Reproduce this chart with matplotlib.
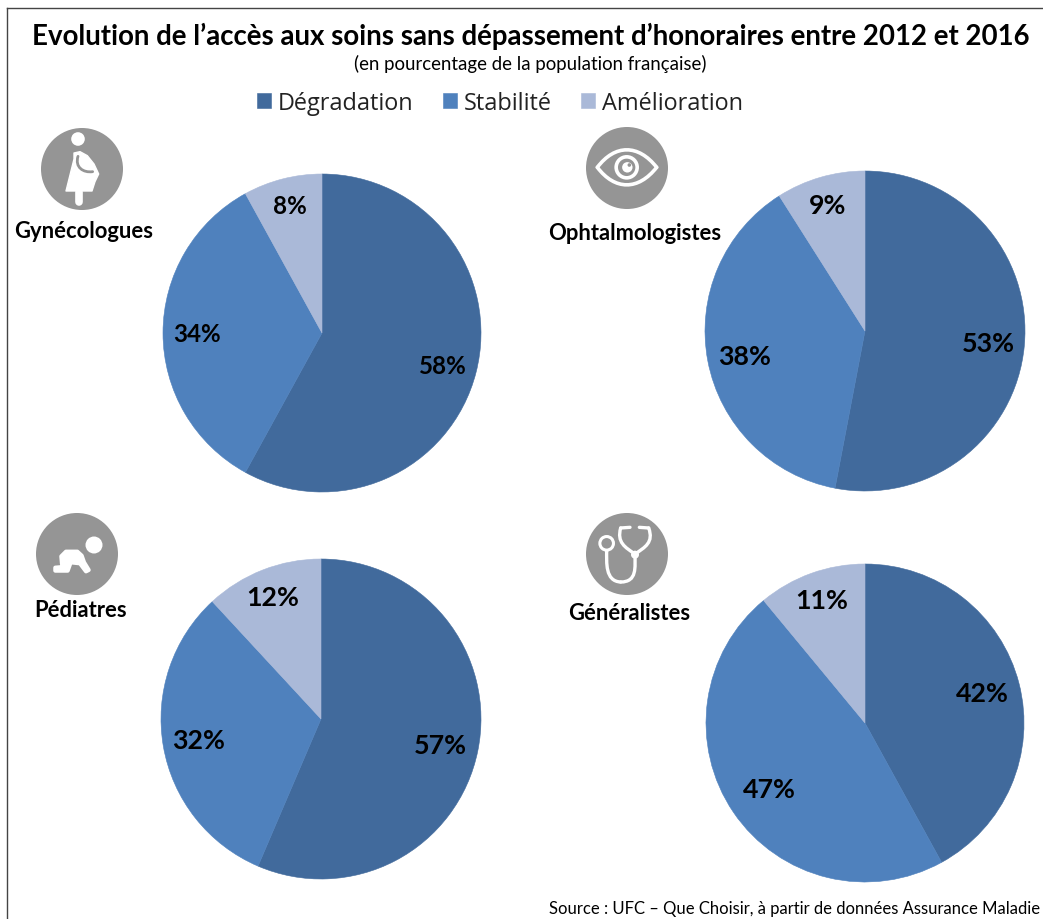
import matplotlib
matplotlib.use('Agg')
import matplotlib.pyplot as plt
from matplotlib.patches import Circle, Polygon, PathPatch
from matplotlib.path import Path

W, H = 1043, 920

# Data
series = ['Dégradation', 'Stabilité', 'Amélioration']
gyneco = [58, 34, 8]
ophtalmo = [53, 38, 9]
pediatres = [57, 32, 12]
generalistes = [42, 47, 11]

colors = ['#416A9C', '#4F81BD', '#AAB9D8']
gray = '#959595'

fig = plt.figure(figsize=(W / 100, H / 100), dpi=100, facecolor='white')

# Overlay axes in pixel coordinates for the frame, the icons and the texts
ov = fig.add_axes([0, 0, 1, 1], zorder=3)
ov.set_xlim(0, W)
ov.set_ylim(H, 0)
ov.axis('off')


def draw_pie(values, cx, cy, r, label_pos):
    ax = fig.add_axes([(cx - r - 1) / W, 1 - (cy + r + 1) / H, (2 * r + 2) / W, (2 * r + 2) / H])
    m = (r + 1) / r
    wedges, texts = ax.pie(values, colors=colors, startangle=90, counterclock=False, radius=1,
                           labels=[str(v) + '%' for v in values],
                           textprops=dict(family='Lato', weight='bold', color='black'))
    ax.set_xlim(-m, m)
    ax.set_ylim(-m, m)
    for w in wedges:
        w.set_edgecolor(w.get_facecolor())
        w.set_linewidth(0.4)
    for t, (px, py, size) in zip(texts, label_pos):
        t.set_position(((px - cx) / r, (cy - py) / r))
        t.set_ha('center')
        t.set_va('center')
        t.set_fontsize(size)
    return wedges


wedges = draw_pie(gyneco, 322, 334, 159, [(443, 367, 17.4), (197, 335, 17.4), (290, 206, 17.4)])
draw_pie(ophtalmo, 865, 332, 160, [(988, 344, 19.3), (745, 357, 19.3), (828, 206, 19.3)])
draw_pie(pediatres, 321, 720, 160, [(440, 746, 19.3), (199, 741, 19.3), (273, 598, 19.3)])
draw_pie(generalistes, 865, 724, 159, [(982, 694, 19.3), (769, 790, 19.3), (822, 601, 19.3)])

# Frame
ov.plot([7, 7], [H, 9], color='#444444', lw=1)
ov.plot([7, W], [9, 9], color='#444444', lw=1)

# Titles
ov.text(530.5, 36, 'Evolution de l’accès aux soins sans dépassement d’honoraires entre 2012 et 2016',
        ha='center', va='center', family='Lato', weight='bold', fontsize=19.9, color='black')
ov.text(530, 64, '(en pourcentage de la population française)', ha='center', va='center',
        family='Lato', fontsize=13.4, color='black')
ov.text(1040, 909, 'Source : UFC – Que Choisir, à partir de données Assurance Maladie', ha='right',
        va='center', family='Lato', fontsize=11.95, color='black')

# Legend
fig.legend(wedges, series, ncols=3, loc='center', bbox_to_anchor=(500 / W, 1 - 104 / H), frameon=False,
           prop=dict(family='Open Sans', size=16.9), handlelength=0.6, handleheight=0.6,
           handletextpad=0.3, columnspacing=1.25, labelcolor='#222222')

# Category names
ov.text(84, 231, 'Gynécologues', ha='center', va='center', family='Lato', weight='bold', fontsize=15.8)
ov.text(635, 233, 'Ophtalmologistes', ha='center', va='center', family='Lato', weight='bold', fontsize=15.8)
ov.text(81, 611, 'Pédiatres', ha='center', va='center', family='Lato', weight='bold', fontsize=15.8)
ov.text(629, 614, 'Généralistes', ha='center', va='center', family='Lato', weight='bold', fontsize=15.8)

# Icon discs
for cx, cy in [(82, 170), (627, 169), (77, 555), (627, 555)]:
    ov.add_patch(Circle((cx, cy), 41, color=gray, lw=0))


# Icons are drawn from points read on 3x crops
def z(ox, oy, pts):
    return [(ox + x / 3, oy + y / 3) for x, y in pts]


def curve(ox, oy, pts, lw, color='white'):
    # pts: start then triples of cubic bezier points
    p = z(ox, oy, pts)
    codes = [Path.MOVETO] + [Path.CURVE4] * (len(p) - 1)
    ov.add_patch(PathPatch(Path(p, codes), fc='none', ec=color, lw=lw, capstyle='round'))


# Pregnant woman
ov.add_patch(Circle((78, 140), 6.8, color='white', lw=0))
body = z(0, 0, [(222, 462), (240, 458), (262, 470), (282, 495), (296, 525), (285, 548), (276, 576),
                (198, 576), (212, 520), (222, 480)])
ov.add_patch(Polygon(body, closed=True, fc='white', ec='white', lw=1, joinstyle='round'))
ov.plot([238 / 3, 238 / 3], [578 / 3, 608 / 3], color='white', lw=5.5, solid_capstyle='round')
curve(0, 0, [(234, 472), (224, 505), (250, 522), (278, 518)], 2, gray)

# Eye
curve(540, 110, [(172, 175), (225, 105), (295, 105), (350, 175)], 2.6)
curve(540, 110, [(172, 175), (225, 245), (295, 245), (350, 175)], 2.6)
ov.add_patch(Circle((540 + 260 / 3, 110 + 175 / 3), 10.5, fc='none', ec='white', lw=2.6))
ov.add_patch(Circle((540 + 262 / 3, 110 + 175 / 3), 5.2, fc='white', lw=0))
ov.add_patch(Circle((540 + 268 / 3, 110 + 168 / 3), 1.8, fc=gray, lw=0))

# Baby
ov.add_patch(Circle((282 / 3, 510 + 108 / 3), 8.5, color='white', lw=0))
baby = z(0, 510, [(186, 165), (184, 142), (198, 128), (232, 128), (245, 140), (252, 160), (266, 183),
                  (258, 187), (240, 163), (212, 160), (203, 185), (166, 185), (166, 176), (190, 174)])
ov.add_patch(Polygon(baby, closed=True, fc='white', ec='white', lw=3, joinstyle='round'))

# Stethoscope
ov.add_patch(Circle((550 + 170 / 3, 505 + 118 / 3), 6.8, fc='none', ec='white', lw=2.2))
curve(550, 505, [(170, 140), (170, 175), (165, 232), (212, 234)], 2.4)
curve(550, 505, [(212, 234), (262, 234), (255, 190), (255, 150)], 2.4)
curve(550, 505, [(255, 150), (225, 130), (200, 115), (212, 72)], 2.4)
curve(550, 505, [(255, 150), (285, 130), (312, 115), (296, 72)], 2.4)
ov.plot([550 + 212 / 3, 550 + 240 / 3], [505 + 72 / 3, 505 + 70 / 3], color='white', lw=2.4, solid_capstyle='round')
ov.plot([550 + 296 / 3, 550 + 268 / 3], [505 + 72 / 3, 505 + 70 / 3], color='white', lw=2.4, solid_capstyle='round')
ov.add_patch(Circle((550 + 255 / 3, 505 + 152 / 3), 4, color='white', lw=0))

fig.savefig('out.png', dpi=100)
